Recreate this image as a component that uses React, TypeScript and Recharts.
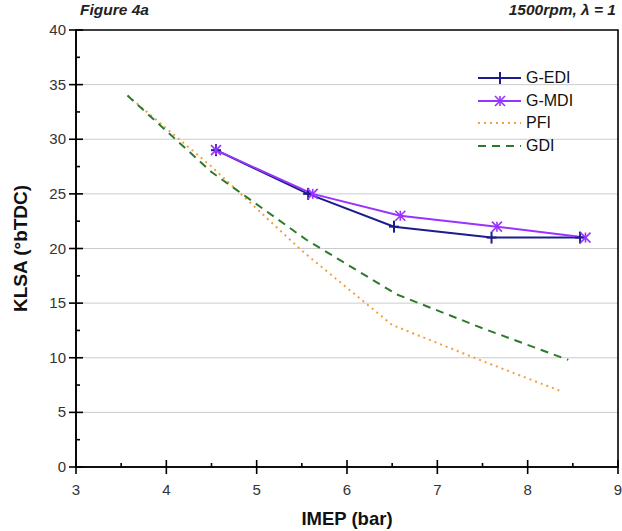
import { LineChart, Line, XAxis, YAxis, CartesianGrid, ReferenceArea, Label } from "recharts";

// IMEP (bar) / KLSA (°bTDC) readings
const ediX = [4.55, 5.57, 6.52, 7.6, 8.58];
const ediY = [29, 25, 22, 21, 21];
const mdiX = [4.55, 5.62, 6.59, 7.66, 8.64];
const mdiY = [29, 25, 23, 22, 21];
const pfiX = [3.57, 4.5, 5.5, 6.5, 7.5, 8.35];
const pfiY = [34, 27.5, 19.8, 13, 9.7, 7];
const gdiX = [3.57, 4.5, 5.55, 6.55, 7.5, 8.45];
const gdiY = [34, 27, 20.8, 15.8, 12.7, 9.8];

const xTicks = [3, 3.5, 4, 4.5, 5, 5.5, 6, 6.5, 7, 7.5, 8, 8.5, 9];
const yTicks = [0, 2.5, 5, 7.5, 10, 12.5, 15, 17.5, 20, 22.5, 25, 27.5, 30, 32.5, 35, 37.5, 40];
const gridY = [5, 10, 15, 20, 25, 30, 35];

const toPoints = (xs: number[], ys: number[]) => xs.map((x, i) => ({ x, y: ys[i] }));

const series = [
  { name: "G-EDI", data: toPoints(ediX, ediY), color: "#1c1c8c", dash: undefined, marker: "plus" },
  { name: "G-MDI", data: toPoints(mdiX, mdiY), color: "#9933ff", dash: undefined, marker: "star" },
  { name: "PFI", data: toPoints(pfiX, pfiY), color: "#f0a040", dash: "2 4", marker: null },
  { name: "GDI", data: toPoints(gdiX, gdiY), color: "#2d7a2d", dash: "8 6", marker: null },
];

const font = "'Liberation Sans', Arial, sans-serif";

const Marker = ({ cx, cy, kind, color }: any) => {
  if (cx == null || cy == null) return null;
  const s = 5;
  if (kind === "plus") {
    return (
      <g stroke={color} strokeWidth={2}>
        <line x1={cx - s} y1={cy} x2={cx + s} y2={cy} />
        <line x1={cx} y1={cy - s - 1} x2={cx} y2={cy + s + 1} />
      </g>
    );
  }
  return (
    <g stroke={color} strokeWidth={1.6}>
      <line x1={cx - s} y1={cy - s} x2={cx + s} y2={cy + s} />
      <line x1={cx - s} y1={cy + s} x2={cx + s} y2={cy - s} />
      <line x1={cx} y1={cy - s} x2={cx} y2={cy + s} />
    </g>
  );
};

const XTick = ({ x, y, payload }: any) => {
  const major = Number.isInteger(payload.value);
  return (
    <g>
      <line x1={x} x2={x} y1={major ? y - 7 : y - 4} y2={major ? y + 7 : y} stroke="#000" strokeWidth={1.6} />
      {major && (
        <text x={x} y={y + 28} textAnchor="middle" fontSize={15} fill="#333" fontFamily={font}>
          {payload.value}
        </text>
      )}
    </g>
  );
};

const YTick = ({ x, y, payload }: any) => {
  const major = payload.value % 5 === 0;
  return (
    <g>
      <line x1={major ? x - 7 : x} x2={major ? x + 7 : x + 4} y1={y} y2={y} stroke="#000" strokeWidth={1.6} />
      {major && (
        <text x={x - 10} y={y + 5} textAnchor="end" fontSize={15} fill="#333" fontFamily={font}>
          {payload.value}
        </text>
      )}
    </g>
  );
};

const LegendBox = () => (
  <div style={{ position: "absolute", left: 476, top: 67, fontFamily: font, fontSize: 16, color: "#111" }}>
    {series.map((s) => (
      <div key={s.name} style={{ display: "flex", alignItems: "center", height: 22.5 }}>
        <svg width={50} height={14}>
          <line x1={2} x2={45} y1={7} y2={7} stroke={s.color} strokeWidth={2} strokeDasharray={s.dash} />
          {s.marker && <Marker cx={24} cy={7} kind={s.marker} color={s.color} />}
        </svg>
        <span>{s.name}</span>
      </div>
    ))}
  </div>
);

export default function App() {
  return (
    <div style={{ position: "absolute", left: 0, top: 0, width: 622, height: 531, background: "#fff" }}>
      <div style={{ position: "absolute", left: 80, top: 1, fontFamily: font, fontSize: 15.5, fontWeight: "bold", fontStyle: "italic", color: "#222" }}>
        Figure 4a
      </div>
      <div style={{ position: "absolute", right: 6, top: 1, fontFamily: font, fontSize: 15.5, fontWeight: "bold", fontStyle: "italic", color: "#222" }}>
        1500rpm, λ = 1
      </div>
      <LineChart width={622} height={531} margin={{ top: 30, right: 4, bottom: 0, left: 0 }}>
        <CartesianGrid vertical={false} horizontalValues={gridY} stroke="#cccccc" strokeWidth={1} />
        <XAxis
          type="number"
          dataKey="x"
          domain={[3, 9]}
          ticks={xTicks}
          interval={0}
          height={64}
          tickSize={0}
          tickMargin={0}
          tick={<XTick />}
          axisLine={{ stroke: "#000", strokeWidth: 1.6 }}
          allowDataOverflow
        >
          <Label value="IMEP (bar)" position="insideBottom" offset={6} style={{ fontFamily: font, fontSize: 18.5, fontWeight: "bold", fill: "#111" }} />
        </XAxis>
        <YAxis
          type="number"
          dataKey="y"
          domain={[0, 40]}
          ticks={yTicks}
          interval={0}
          width={76}
          tickSize={0}
          tickMargin={0}
          tick={<YTick />}
          axisLine={{ stroke: "#000", strokeWidth: 1.6 }}
          allowDataOverflow
        >
          <Label value="KLSA (°bTDC)" angle={-90} position="insideLeft" offset={20} style={{ fontFamily: font, fontSize: 19, fontWeight: "bold", fill: "#111", textAnchor: "middle" }} />
        </YAxis>
        <ReferenceArea x1={3} x2={9} y1={0} y2={40} fill="none" stroke="#000" strokeWidth={1.6} />
        {series.map((s) => (
          <Line
            key={s.name}
            data={s.data}
            dataKey="y"
            name={s.name}
            type="linear"
            stroke={s.color}
            strokeWidth={2}
            strokeDasharray={s.dash}
            dot={s.marker ? (p: any) => <Marker key={p.index} cx={p.cx} cy={p.cy} kind={s.marker} color={s.color} /> : false}
            activeDot={false}
            isAnimationActive={false}
          />
        ))}
      </LineChart>
      <LegendBox />
    </div>
  );
}
